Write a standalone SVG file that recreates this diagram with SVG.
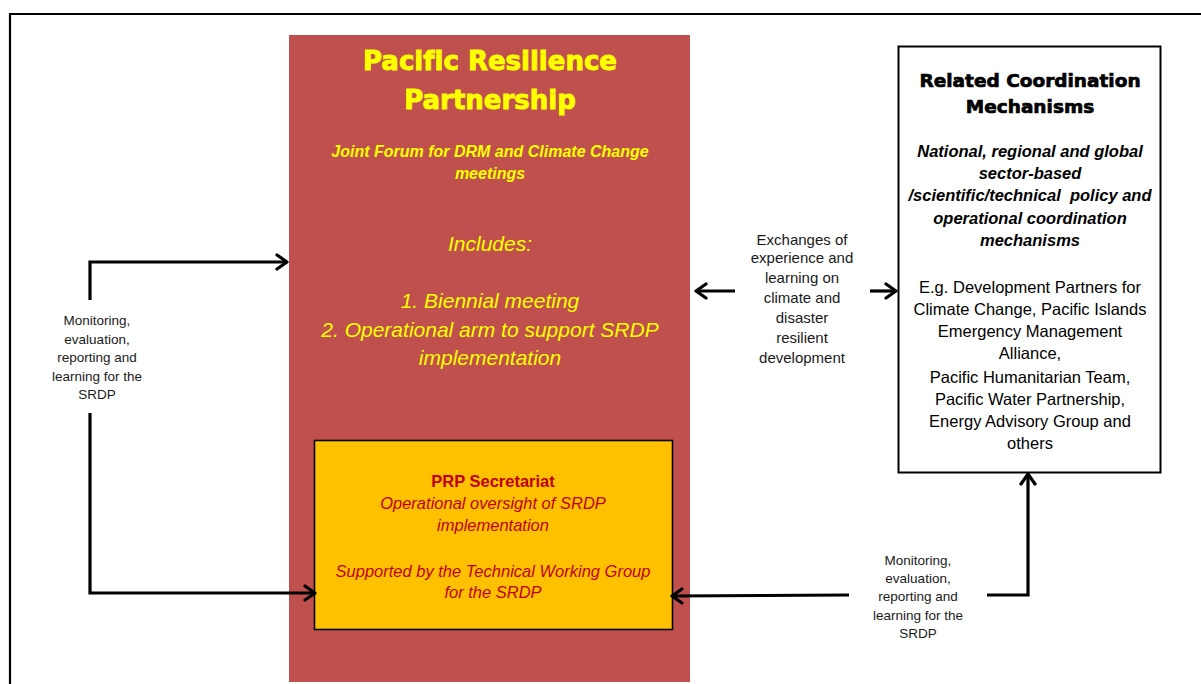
<svg xmlns="http://www.w3.org/2000/svg" width="1201" height="684" viewBox="0 0 1201 684">
<defs>
<style>
.lbl{font-family:"Liberation Sans",Arial,sans-serif;font-size:13.5px;fill:#1a1a1a;text-anchor:middle}
.ex{font-family:"Liberation Sans",Arial,sans-serif;font-size:15px;fill:#1a1a1a;text-anchor:middle}
.title{font-family:"DejaVu Sans",sans-serif;font-weight:bold;font-size:26px;fill:#FFFF00;stroke:#FFFF00;stroke-width:0.9;text-anchor:middle;font-variant-ligatures:none}
.sub{font-family:"Liberation Sans",Arial,sans-serif;font-weight:bold;font-style:italic;font-size:16px;fill:#FFFF00;text-anchor:middle}
.inc{font-family:"Liberation Sans",Arial,sans-serif;font-style:italic;font-size:21px;fill:#FFFF00;text-anchor:middle}
.sec{font-family:"Liberation Sans",Arial,sans-serif;font-size:16.5px;fill:#C00000;text-anchor:middle}
.hd{font-family:"DejaVu Sans",sans-serif;font-weight:bold;font-size:18.5px;fill:#000;stroke:#000;stroke-width:0.7;text-anchor:middle}
.bi{font-family:"Liberation Sans",Arial,sans-serif;font-weight:bold;font-style:italic;font-size:16.5px;fill:#000;text-anchor:middle}
.body{font-family:"Liberation Sans",Arial,sans-serif;font-size:16.5px;fill:#000;text-anchor:middle}
.conn{fill:none;stroke:#000;stroke-width:3.2}
</style>
<marker id="arr" markerUnits="userSpaceOnUse" viewBox="0 0 14 18" refX="12" refY="9" markerWidth="14" markerHeight="18" orient="auto">
<path d="M2,2 L12,9 L2,16" fill="none" stroke="#000" stroke-width="3.2" stroke-linecap="round" stroke-linejoin="round"/>
</marker>
</defs>
<rect x="0" y="0" width="1201" height="684" fill="#fff"/>
<path d="M10,684 L10,14 L1201,14" fill="none" stroke="#000" stroke-width="2.2"/>

<g id="prp">
<rect x="289" y="35" width="401" height="647" fill="#C0504D"/>
<text class="title" x="490" y="70">Pacific Resilience</text>
<text class="title" x="490" y="109">Partnership</text>
<text class="sub" x="490" y="157">Joint Forum for DRM and Climate Change</text>
<text class="sub" x="490" y="179">meetings</text>
<text class="inc" x="490" y="251">Includes:</text>
<text class="inc" x="490" y="308">1. Biennial meeting</text>
<text class="inc" x="490" y="337">2. Operational arm to support SRDP</text>
<text class="inc" x="490" y="365">implementation</text>
</g>

<g id="secretariat">
<rect x="314.5" y="440.5" width="358" height="189" fill="#FFC000" stroke="#000" stroke-width="1.6"/>
<text class="sec" x="493" y="487" font-weight="bold" font-size="16">PRP  Secretariat</text>
<text class="sec" x="493" y="509" font-style="italic">Operational oversight of SRDP</text>
<text class="sec" x="493" y="531" font-style="italic">implementation</text>
<text class="sec" x="493" y="577" font-style="italic">Supported by the Technical Working Group</text>
<text class="sec" x="493" y="598" font-style="italic">for the SRDP</text>
</g>

<g id="related">
<rect x="898.5" y="46.5" width="262" height="426" fill="#fff" stroke="#000" stroke-width="2"/>
<text class="hd" x="1030" y="87">Related Coordination</text>
<text class="hd" x="1030" y="113">Mechanisms</text>
<text class="bi" x="1030" y="157">National, regional and global</text>
<text class="bi" x="1030" y="179">sector-based</text>
<text class="bi" x="1030" y="201" xml:space="preserve">/scientific/technical  policy and</text>
<text class="bi" x="1030" y="224">operational coordination</text>
<text class="bi" x="1030" y="246">mechanisms</text>
<text class="body" x="1030" y="293">E.g. Development Partners for</text>
<text class="body" x="1030" y="315">Climate Change, Pacific Islands</text>
<text class="body" x="1030" y="337">Emergency Management</text>
<text class="body" x="1030" y="359">Alliance,</text>
<text class="body" x="1030" y="383">Pacific Humanitarian Team,</text>
<text class="body" x="1030" y="405">Pacific Water Partnership,</text>
<text class="body" x="1030" y="427">Energy Advisory Group and</text>
<text class="body" x="1030" y="449">others</text>
</g>

<g id="connectors">
<path class="conn" d="M90,300 L90,262 L287,262" marker-end="url(#arr)"/>
<path class="conn" d="M90,413 L90,593 L315,593" marker-end="url(#arr)"/>
<path class="conn" d="M735,291 L696,291" marker-end="url(#arr)"/>
<path class="conn" d="M870,291 L896,291" marker-end="url(#arr)"/>
<path class="conn" d="M849,595 L672,596" marker-end="url(#arr)"/>
<path class="conn" d="M987,595 L1028,595 L1028,474" marker-end="url(#arr)"/>
</g>

<g id="labels">
<text class="lbl" x="97" y="325">Monitoring,</text>
<text class="lbl" x="97" y="344">evaluation,</text>
<text class="lbl" x="97" y="362">reporting and</text>
<text class="lbl" x="97" y="381">learning for the</text>
<text class="lbl" x="97" y="399">SRDP</text>
<text class="ex" x="802" y="245">Exchanges of</text>
<text class="ex" x="802" y="263">experience and</text>
<text class="ex" x="802" y="283">learning on</text>
<text class="ex" x="802" y="303">climate and</text>
<text class="ex" x="802" y="323">disaster</text>
<text class="ex" x="802" y="343">resilient</text>
<text class="ex" x="802" y="363">development</text>
<text class="lbl" x="918" y="565">Monitoring,</text>
<text class="lbl" x="918" y="583">evaluation,</text>
<text class="lbl" x="918" y="601">reporting and</text>
<text class="lbl" x="918" y="620">learning for the</text>
<text class="lbl" x="918" y="638">SRDP</text>
</g>
</svg>
